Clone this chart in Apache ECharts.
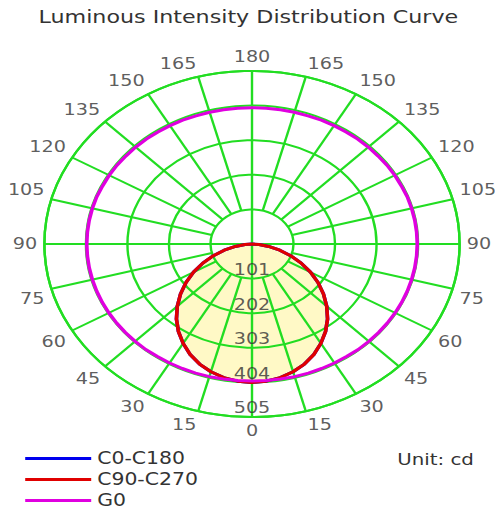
<!DOCTYPE html>
<html><head><meta charset="utf-8">
<script src="https://cdn.jsdelivr.net/npm/echarts@6/dist/echarts.min.js"></script>
<style>
html,body{margin:0;padding:0;background:#fff;overflow:hidden}
#wrap{width:497px;height:512px;overflow:hidden}
#c{width:414px;height:512px;transform:scaleX(1.2);transform-origin:0 0}
</style>
</head><body><div id="wrap"><div id="c"></div></div>
<script>
// ---- data ----
const titleText = 'Luminous Intensity Distribution Curve';
const unitText = 'Unit: cd';
const seriesNames = ['C0-C180', 'C90-C270', 'G0'];
const cAngles = [0, 5, 10, 15, 20, 25, 30, 35, 40, 45, 50, 55, 60, 65, 70, 75, 80, 85, 90];
const c0c180 = [404, 402, 396, 386, 373, 356, 335, 312, 286, 257, 227, 196, 164, 132, 100, 70, 41, 17, 0];
const c90c270 = [404, 402, 396, 386, 373, 356, 335, 312, 286, 257, 227, 196, 164, 132, 100, 70, 41, 17, 0];
const g0Angles = [0, 5, 10, 15, 20, 25, 30, 35, 40, 45, 50, 55, 60, 65, 70, 75, 80, 85, 90,
  95, 100, 105, 110, 115, 120, 125, 130, 135, 140, 145, 150, 155, 160, 165, 170, 175, 180];
const g0 = [400, 400, 400, 401, 401, 401, 401, 401, 402, 402, 402, 402, 402, 402, 402, 402, 402, 402, 402,
  402, 402, 402, 402, 401, 401, 401, 400, 400, 400, 399, 399, 399, 398, 398, 398, 398, 398];
const radiusTicks = [101, 202, 303, 404, 505];
const radiusTickLabels = ['101', '202', '303', '404', '505'];
const angleTicks = [0,15,30,45,60,75,90,105,120,135,150,165,180,195,210,225,240,255,270,285,300,315,330,345];
const angleTickLabels = ['0','15','30','45','60','75','90','105','120','135','150','165','180','165','150','135','120','105','90','75','60','45','30','15'];

// ---- styles ----
const FONT = 'DejaVu Sans';
const GREEN = '#22DD22';
const COLORS = ['#0000EE', '#E00000', '#E000E0'];
const RMAX = 505;

function mirrorCurve(angles, vals) {
  const pts = [];
  for (let i = angles.length - 1; i >= 0; i--) pts.push([vals[i], 360 - angles[i]]);
  for (let i = 1; i < angles.length; i++) pts.push([vals[i], angles[i]]);
  return pts;
}

const series = [];
// yellow fill under C90-C270
series.push({
  type: 'line', coordinateSystem: 'polar', data: mirrorCurve(cAngles, c90c270),
  symbol: 'none', silent: true, z: 0,
  lineStyle: { width: 0, opacity: 0 },
  areaStyle: { color: '#FFF9C6', opacity: 1 }
});
// spokes
angleTicks.forEach(a => {
  const r0 = (a % 90 === 0) ? 0 : radiusTicks[0];
  series.push({
    type: 'line', coordinateSystem: 'polar', data: [[r0, a], [RMAX, a]],
    symbol: 'none', silent: true, z: 2, clip: false,
    lineStyle: { color: GREEN, width: 2 }
  });
});
// curves
const curveData = [mirrorCurve(cAngles, c0c180), mirrorCurve(cAngles, c90c270), mirrorCurve(g0Angles, g0)];
seriesNames.forEach((n, i) => {
  series.push({
    name: n, type: 'line', coordinateSystem: 'polar', data: curveData[i],
    symbol: 'none', z: 3 + i, clip: false,
    itemStyle: { color: COLORS[i] },
    lineStyle: { color: COLORS[i], width: 3, join: 'round' }
  });
});
// radius labels
series.push({
  type: 'scatter', coordinateSystem: 'polar', symbolSize: 0, silent: true, z: 10, clip: false,
  data: radiusTicks.map((r, i) => ({ value: [r, 0], name: radiusTickLabels[i] })),
  label: { show: true, position: [0, -1], align: 'center', verticalAlign: 'bottom',
    formatter: p => p.name, fontSize: 16, color: '#333', fontFamily: FONT }
});
// angle labels
const labelR = RMAX * (173 + 6) / 173;
series.push({
  type: 'scatter', coordinateSystem: 'polar', symbolSize: 0, silent: true, z: 10, clip: false,
  data: angleTicks.map((a, i) => {
    let align = 'center', va = 'middle';
    if (a > 0 && a < 180) align = 'right'; else if (a > 180) align = 'left';
    if (a > 90 && a < 270) va = 'bottom'; else if (a < 90 || a > 270) va = 'top';
    return { value: [labelR, a], name: angleTickLabels[i], label: { align: align, verticalAlign: va } };
  }),
  label: { show: true, position: [0, 0], formatter: p => p.name, fontSize: 16, color: '#333', fontFamily: FONT }
});

const chart = echarts.init(document.getElementById('c'), null, { renderer: 'svg' });
chart.setOption({
  animation: false,
  backgroundColor: '#fff',
  title: { text: titleText, left: 'center', top: 7, padding: 0,
    textStyle: { fontSize: 18.5, fontWeight: 'normal', color: '#333', fontFamily: FONT } },
  legend: {
    data: seriesNames, orient: 'vertical', left: 21, top: 450, padding: 0,
    icon: 'rect', itemWidth: 55, itemHeight: 3, itemGap: 4, selectedMode: false,
    textStyle: { fontSize: 17, color: '#333', fontFamily: FONT }
  },
  graphic: [{ type: 'text', left: 331, top: 451,
    style: { text: unitText, fontSize: 16.5, fill: '#333', fontFamily: FONT } }],
  polar: { center: [210, 244], radius: 173 },
  angleAxis: {
    type: 'value', min: 0, max: 360, interval: 15, startAngle: 270, clockwise: true, z: 1,
    axisLine: { show: true, lineStyle: { color: GREEN, width: 2 } },
    axisTick: { show: false }, axisLabel: { show: false }, splitLine: { show: false }
  },
  radiusAxis: {
    type: 'value', min: 0, max: RMAX, interval: 101, z: 1,
    axisLine: { show: false }, axisTick: { show: false }, axisLabel: { show: false },
    splitLine: { show: true, lineStyle: { color: GREEN, width: 2 } }
  },
  series: series
});
</script></body></html>
